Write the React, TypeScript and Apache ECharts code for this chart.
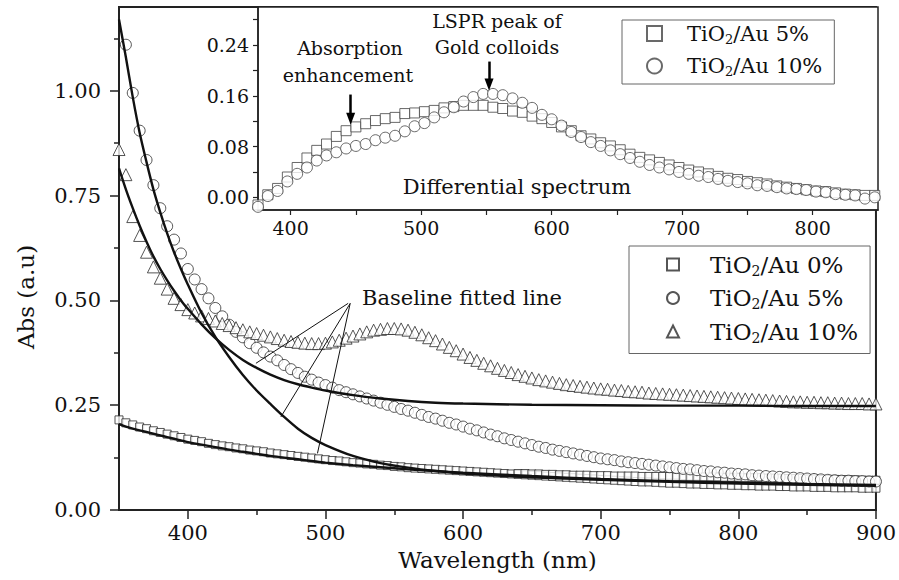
import React, { useEffect, useRef } from "react";
import * as echarts from "echarts";

const FONT = '"DejaVu Serif", serif';

// ---- main chart data (wavelength grid, nm) ----
const wavelengths = [
  350, 355, 360, 365, 370, 375, 380, 385, 390, 395,
  400, 405, 410, 415, 420, 425, 430, 435, 440, 445,
  450, 455, 460, 465, 470, 475, 480, 485, 490, 495,
  500, 505, 510, 515, 520, 525, 530, 535, 540, 545,
  550, 555, 560, 565, 570, 575, 580, 585, 590, 595,
  600, 605, 610, 615, 620, 625, 630, 635, 640, 645,
  650, 655, 660, 665, 670, 675, 680, 685, 690, 695,
  700, 705, 710, 715, 720, 725, 730, 735, 740, 745,
  750, 755, 760, 765, 770, 775, 780, 785, 790, 795,
  800, 805, 810, 815, 820, 825, 830, 835, 840, 845,
  850, 855, 860, 865, 870, 875, 880, 885, 890, 895,
  900,
];

const abs0 = [
  0.215, 0.208, 0.203, 0.198, 0.194, 0.189, 0.185, 0.181, 0.177, 0.173,
  0.169, 0.166, 0.163, 0.159, 0.156, 0.153, 0.151, 0.148, 0.146, 0.143,
  0.141, 0.139, 0.136, 0.134, 0.132, 0.13, 0.128, 0.126, 0.124, 0.122,
  0.12, 0.118, 0.117, 0.115, 0.113, 0.112, 0.11, 0.109, 0.107, 0.106,
  0.104, 0.103, 0.101, 0.1, 0.099, 0.098, 0.097, 0.096, 0.095, 0.094,
  0.093, 0.092, 0.091, 0.09, 0.089, 0.088, 0.087, 0.086, 0.085, 0.084,
  0.083, 0.082, 0.081, 0.08, 0.079, 0.078, 0.077, 0.076, 0.075, 0.074,
  0.073, 0.072, 0.071, 0.07, 0.069, 0.068, 0.067, 0.067, 0.066, 0.065,
  0.064, 0.064, 0.063, 0.062, 0.062, 0.061, 0.061, 0.06, 0.06, 0.059,
  0.059, 0.058, 0.058, 0.057, 0.057, 0.057, 0.056, 0.056, 0.055, 0.055,
  0.055, 0.054, 0.054, 0.054, 0.053, 0.053, 0.053, 0.053, 0.052, 0.052,
  0.052,
];

// second (upper) row of 0% squares visible at long wavelengths: [nm, abs]
const abs0UpperRow = [
  [640, 0.087], [645, 0.087], [650, 0.086], [655, 0.086], [660, 0.085], [665, 0.085],
  [670, 0.084], [675, 0.084], [680, 0.083], [685, 0.083], [690, 0.083], [695, 0.082],
  [700, 0.082], [705, 0.082], [710, 0.081], [715, 0.081], [720, 0.081], [725, 0.081],
  [730, 0.08], [735, 0.08], [740, 0.08], [745, 0.08], [750, 0.08], [755, 0.079],
  [760, 0.079], [765, 0.079], [770, 0.079], [775, 0.079], [780, 0.079], [785, 0.079],
  [790, 0.078], [795, 0.078], [800, 0.078], [805, 0.077], [810, 0.077], [815, 0.077],
  [820, 0.076], [825, 0.076], [830, 0.076], [835, 0.075], [840, 0.075], [845, 0.075],
  [850, 0.074], [855, 0.074], [860, 0.073], [865, 0.073], [870, 0.073], [875, 0.072],
  [880, 0.072], [885, 0.072], [890, 0.071], [895, 0.071], [900, 0.071],
];

const abs5 = [
  null, 1.11, 0.995, 0.905, 0.835, 0.775, 0.72, 0.677, 0.645, 0.612,
  0.575, 0.55, 0.527, 0.505, 0.482, 0.462, 0.442, 0.425, 0.412, 0.398,
  0.387, 0.376, 0.366, 0.357, 0.346, 0.336, 0.327, 0.318, 0.311, 0.304,
  0.298, 0.292, 0.286, 0.281, 0.276, 0.271, 0.266, 0.261, 0.256, 0.251,
  0.246, 0.241, 0.237, 0.232, 0.227, 0.222, 0.218, 0.213, 0.208, 0.204,
  0.199, 0.194, 0.19, 0.185, 0.18, 0.176, 0.171, 0.167, 0.163, 0.159,
  0.155, 0.151, 0.148, 0.144, 0.141, 0.138, 0.135, 0.132, 0.129, 0.126,
  0.123, 0.121, 0.119, 0.116, 0.114, 0.112, 0.11, 0.108, 0.106, 0.104,
  0.102, 0.1, 0.098, 0.097, 0.095, 0.093, 0.092, 0.09, 0.089, 0.087,
  0.086, 0.085, 0.083, 0.082, 0.081, 0.08, 0.079, 0.078, 0.077, 0.076,
  0.075, 0.074, 0.073, 0.072, 0.071, 0.07, 0.07, 0.069, 0.069, 0.068,
  0.068,
];

const abs10 = [
  0.86, 0.8, 0.7, 0.655, 0.615, 0.58, 0.553, 0.527, 0.505, 0.49,
  0.478, 0.47, 0.463, 0.457, 0.451, 0.445, 0.44, 0.435, 0.43, 0.425,
  0.421, 0.417, 0.413, 0.409, 0.405, 0.402, 0.4, 0.398, 0.397, 0.397,
  0.398, 0.401, 0.405, 0.41, 0.415, 0.42, 0.425, 0.429, 0.431, 0.433,
  0.433, 0.432, 0.429, 0.424, 0.418, 0.411, 0.404, 0.396, 0.388, 0.38,
  0.372, 0.364, 0.357, 0.35, 0.344, 0.338, 0.333, 0.328, 0.323, 0.319,
  0.315, 0.311, 0.308, 0.305, 0.302, 0.299, 0.297, 0.295, 0.293, 0.291,
  0.289, 0.288, 0.286, 0.285, 0.283, 0.282, 0.281, 0.279, 0.278, 0.277,
  0.276, 0.275, 0.274, 0.273, 0.272, 0.271, 0.27, 0.269, 0.268, 0.267,
  0.266, 0.265, 0.264, 0.263, 0.262, 0.261, 0.26, 0.259, 0.258, 0.258,
  0.257, 0.257, 0.256, 0.256, 0.255, 0.255, 0.254, 0.254, 0.254, 0.253,
  0.253,
];

// baseline fitted lines
const fitWavelengths = [
  350, 355, 360, 365, 370, 375, 380, 385, 390, 395, 400,
  410, 420, 430, 440, 450, 460, 470, 480, 490, 500,
  520, 540, 560, 580, 600,
  650, 700, 750, 800, 850, 900,
];
const fit0 = [
  0.205, 0.199, 0.194, 0.19, 0.186, 0.182, 0.178, 0.174, 0.17, 0.166, 0.162,
  0.156, 0.15, 0.144, 0.139, 0.134, 0.129, 0.125, 0.121, 0.117, 0.113,
  0.107, 0.102, 0.097, 0.093, 0.089,
  0.081, 0.074, 0.069, 0.065, 0.062, 0.06,
];
const fit5 = [
  1.17, 1.08, 0.985, 0.9, 0.83, 0.765, 0.71, 0.66, 0.615, 0.575, 0.538,
  0.47, 0.413, 0.365, 0.322, 0.285, 0.253, 0.222, 0.194, 0.172, 0.155,
  0.129, 0.112, 0.101, 0.093, 0.087,
  0.078, 0.072, 0.067, 0.063, 0.06, 0.058,
];
const fit10 = [
  0.815, 0.765, 0.72, 0.678, 0.64, 0.605, 0.575, 0.548, 0.523, 0.5, 0.48,
  0.443, 0.41, 0.382, 0.358, 0.339, 0.323, 0.31, 0.3, 0.292, 0.285,
  0.274, 0.266, 0.26, 0.256, 0.254,
  0.251, 0.25, 0.249, 0.249, 0.248, 0.248,
];

// ---- inset: differential spectrum ----
const insetWavelengths = [
  375, 382.5, 390, 397.5, 405, 412.5, 420, 427.5,
  435, 442.5, 450, 457.5, 465, 472.5, 480, 487.5,
  495, 502.5, 510, 517.5, 525, 532.5, 540, 547.5,
  555, 562.5, 570, 577.5, 585, 592.5, 600, 607.5,
  615, 622.5, 630, 637.5, 645, 652.5, 660, 667.5,
  675, 682.5, 690, 697.5, 705, 712.5, 720, 727.5,
  735, 742.5, 750, 757.5, 765, 772.5, 780, 787.5,
  795, 802.5, 810, 817.5, 825, 832.5, 840, 847.5,
];
const diff5 = [
  -0.012, 0.004, 0.014, 0.032, 0.047, 0.062, 0.074, 0.084,
  0.096, 0.105, 0.111, 0.116, 0.121, 0.124, 0.126, 0.132,
  0.133, 0.135, 0.137, 0.141, 0.143, 0.145, 0.145, 0.145,
  0.142, 0.14, 0.136, 0.134, 0.128, 0.124, 0.118, 0.111,
  0.105, 0.097, 0.092, 0.086, 0.081, 0.075, 0.068, 0.063,
  0.059, 0.055, 0.051, 0.047, 0.043, 0.04, 0.037, 0.033,
  0.03, 0.028, 0.025, 0.023, 0.021, 0.018, 0.016, 0.014,
  0.012, 0.01, 0.009, 0.007, 0.005, 0.004, 0.003, 0.003,
];
const diff10 = [
  -0.015, 0.002, 0.01, 0.025, 0.037, 0.047, 0.058, 0.066,
  0.071, 0.077, 0.081, 0.084, 0.09, 0.094, 0.097, 0.104,
  0.112, 0.117, 0.126, 0.134, 0.142, 0.151, 0.158, 0.163,
  0.163, 0.161, 0.156, 0.149, 0.141, 0.13, 0.123, 0.113,
  0.103, 0.095, 0.087, 0.081, 0.074, 0.068, 0.062, 0.056,
  0.051, 0.047, 0.044, 0.04, 0.037, 0.034, 0.032, 0.029,
  0.026, 0.024, 0.022, 0.019, 0.018, 0.016, 0.014, 0.013,
  0.0115, 0.009, 0.008, 0.005, 0.004, 0.003, -0.002, 0,
];

// ---- ticks ----
const xMajorTicks = [400, 500, 600, 700, 800, 900];
const xMinorTicks = [450, 550, 650, 750, 850];
const yMajorTicks = [0, 0.25, 0.5, 0.75, 1.0];
const yMinorTicks = [0.125, 0.375, 0.625, 0.875, 1.125];
const insetXLabels = [400, 500, 600, 700, 800];
const insetXTicks = [400, 450, 500, 550, 600, 650, 700, 750, 800];
const insetYLabels = [0, 0.08, 0.16, 0.24];
const insetYTicks = [0, 0.04, 0.08, 0.12, 0.16, 0.2, 0.24, 0.28];

const mainNames = ["TiO2/Au 0%", "TiO2/Au 5%", "TiO2/Au 10%"];
const insetNames = ["TiO2/Au 5% (differential)", "TiO2/Au 10% (differential)"];

function pairs(xs: number[], ys: (number | null)[]) {
  const out: number[][] = [];
  xs.forEach((x, i) => {
    const y = ys[i];
    if (y !== null && y !== undefined) out.push([x, y]);
  });
  return out;
}

function legendLabel(name: string) {
  const m = name.match(/Au (\d+%)/);
  const pct = m ? m[1] : "";
  return `{g| }{a|TiO}{s|2}{a|/Au ${pct}}`;
}

export default function App() {
  const ref = useRef<HTMLDivElement>(null);

  useEffect(() => {
    if (!ref.current) return;
    const chart = echarts.init(ref.current, null, { renderer: "svg" });

    const markerMain = { color: "#fff", borderColor: "#2a2a2a", borderWidth: 1 };
    const markerInset = { color: "#fff", borderColor: "#444", borderWidth: 1 };
    const tickLine = { color: "#222", width: 1.5 };

    const option: any = {
      animation: false,
      backgroundColor: "#fff",
      textStyle: { fontFamily: FONT },
      grid: [
        { left: 119, top: 7, width: 759, height: 503, show: true, borderColor: "#222", borderWidth: 2, backgroundColor: "transparent" },
        { left: 258, top: 7, width: 620, height: 203, show: true, borderColor: "#222", borderWidth: 1.5, backgroundColor: "#fff" },
      ],
      xAxis: [
        {
          gridIndex: 0, type: "value", min: 350, max: 900, position: "bottom",
          axisLine: { show: true, onZero: false, lineStyle: { color: "#222", width: 2 } },
          axisTick: { show: true, length: 9, lineStyle: tickLine, customValues: xMajorTicks },
          axisLabel: { show: true, margin: 12, fontFamily: FONT, fontSize: 21, color: "#111", customValues: xMajorTicks },
          splitLine: { show: false },
          name: "Wavelength (nm)", nameLocation: "middle", nameGap: 38,
          nameTextStyle: { fontFamily: FONT, fontSize: 23, color: "#111" },
        },
        {
          gridIndex: 0, type: "value", min: 350, max: 900, position: "bottom",
          axisLine: { show: false, onZero: false },
          axisTick: { show: true, length: 5, lineStyle: tickLine, customValues: xMinorTicks },
          axisLabel: { show: false },
          splitLine: { show: false },
        },
        {
          gridIndex: 1, type: "value", min: 375, max: 850, position: "bottom",
          axisLine: { show: true, onZero: false, lineStyle: { color: "#222", width: 1.5 } },
          axisTick: { show: true, length: 5, lineStyle: { color: "#222", width: 1.2 }, customValues: insetXTicks },
          axisLabel: { show: true, margin: 8, fontFamily: FONT, fontSize: 19, color: "#111", customValues: insetXLabels },
          splitLine: { show: false },
        },
      ],
      yAxis: [
        {
          gridIndex: 0, type: "value", min: 0, max: 1.2, position: "left",
          axisLine: { show: true, onZero: false, lineStyle: { color: "#222", width: 2 } },
          axisTick: { show: true, length: 9, lineStyle: tickLine, customValues: yMajorTicks },
          axisLabel: {
            show: true, margin: 18, fontFamily: FONT, fontSize: 21, color: "#111",
            customValues: yMajorTicks, formatter: (v: number) => v.toFixed(2),
          },
          splitLine: { show: false },
          name: "Abs (a.u)", nameLocation: "middle", nameGap: 82,
          nameTextStyle: { fontFamily: FONT, fontSize: 23, color: "#111", padding: [0, 77, 0, 0] },
        },
        {
          gridIndex: 0, type: "value", min: 0, max: 1.2, position: "left",
          axisLine: { show: false, onZero: false },
          axisTick: { show: true, length: 5, lineStyle: tickLine, customValues: yMinorTicks },
          axisLabel: { show: false },
          splitLine: { show: false },
        },
        {
          gridIndex: 1, type: "value", min: -0.02, max: 0.3, position: "left",
          axisLine: { show: true, onZero: false, lineStyle: { color: "#222", width: 1.5 } },
          axisTick: { show: true, length: 5, lineStyle: { color: "#222", width: 1.2 }, customValues: insetYTicks },
          axisLabel: {
            show: true, margin: 9, fontFamily: FONT, fontSize: 19, color: "#111",
            customValues: insetYLabels, formatter: (v: number) => v.toFixed(2),
          },
          splitLine: { show: false },
        },
      ],
      legend: [
        {
          orient: "vertical", left: 629, top: 246,
          padding: [7, 12, 9, 37], itemWidth: 12, itemHeight: 12, itemGap: 9,
          borderColor: "#666", borderWidth: 1, backgroundColor: "#fff",
          data: mainNames, formatter: legendLabel,
          textStyle: {
            fontFamily: FONT, fontSize: 23, color: "#111",
            rich: {
              g: { width: 26 },
              a: { fontFamily: FONT, fontSize: 23, lineHeight: 26, color: "#111" },
              s: { fontFamily: FONT, fontSize: 14, lineHeight: 6, verticalAlign: "bottom", color: "#111" },
            },
          },
        },
        {
          orient: "vertical", left: 622, top: 20,
          padding: [3, 12, 6, 24], itemWidth: 15, itemHeight: 15, itemGap: 10,
          borderColor: "#666", borderWidth: 1, backgroundColor: "#fff",
          data: insetNames, formatter: legendLabel,
          textStyle: {
            fontFamily: FONT, fontSize: 21, color: "#111",
            rich: {
              g: { width: 20 },
              a: { fontFamily: FONT, fontSize: 21, lineHeight: 24, color: "#111" },
              s: { fontFamily: FONT, fontSize: 13, lineHeight: 6, verticalAlign: "bottom", color: "#111" },
            },
          },
        },
      ],
      series: [
        {
          name: mainNames[0], type: "scatter", xAxisIndex: 0, yAxisIndex: 0,
          symbol: "rect", symbolSize: 8, itemStyle: markerMain,
          data: pairs(wavelengths, abs0).concat(abs0UpperRow),
        },
        {
          name: mainNames[1], type: "scatter", xAxisIndex: 0, yAxisIndex: 0,
          symbol: "circle", symbolSize: 11, itemStyle: markerMain,
          data: pairs(wavelengths, abs5),
        },
        {
          name: mainNames[2], type: "scatter", xAxisIndex: 0, yAxisIndex: 0,
          symbol: "triangle", symbolSize: 12, itemStyle: markerMain,
          data: pairs(wavelengths, abs10),
        },
        {
          name: "fit0", type: "line", xAxisIndex: 0, yAxisIndex: 0, smooth: 0.3,
          showSymbol: false, symbol: "none", lineStyle: { color: "#111", width: 2.4 },
          data: pairs(fitWavelengths, fit0), z: 3,
        },
        {
          name: "fit5", type: "line", xAxisIndex: 0, yAxisIndex: 0, smooth: 0.3,
          showSymbol: false, symbol: "none", lineStyle: { color: "#111", width: 2.4 },
          data: pairs(fitWavelengths, fit5), z: 3,
        },
        {
          name: "fit10", type: "line", xAxisIndex: 0, yAxisIndex: 0, smooth: 0.3,
          showSymbol: false, symbol: "none", lineStyle: { color: "#111", width: 2.4 },
          data: pairs(fitWavelengths, fit10), z: 3,
          markLine: {
            silent: true, symbol: ["none", "none"], animation: false,
            lineStyle: { color: "#111", width: 1, type: "solid" },
            label: { show: false },
            data: [
              [{ coord: [516.5, 0.493] }, { coord: [449.5, 0.35] }],
              [{ coord: [518, 0.493] }, { coord: [467.6, 0.222] }],
              [{ coord: [518, 0.493] }, { coord: [494.2, 0.135] }],
            ],
          },
        },
        {
          name: insetNames[0], type: "scatter", xAxisIndex: 2, yAxisIndex: 2,
          symbol: "rect", symbolSize: 10, itemStyle: markerInset,
          data: pairs(insetWavelengths, diff5),
        },
        {
          name: insetNames[1], type: "scatter", xAxisIndex: 2, yAxisIndex: 2,
          symbol: "circle", symbolSize: 11, itemStyle: markerInset,
          data: pairs(insetWavelengths, diff10),
          markLine: {
            silent: true, symbol: ["none", "triangle"], symbolSize: [9, 12], animation: false,
            lineStyle: { color: "#000", width: 2.5, type: "solid" },
            itemStyle: { color: "#000" },
            label: { show: false },
            data: [
              [{ coord: [446, 0.162] }, { coord: [446, 0.124] }],
              [{ coord: [552, 0.214] }, { coord: [552, 0.178] }],
            ],
          },
        },
      ],
      graphic: [
        { type: "text", z: 100, x: 362, y: 298, style: { text: "Baseline fitted line", font: `21px ${FONT}`, fill: "#111", align: "left", verticalAlign: "middle" } },
        { type: "text", z: 100, x: 497, y: 21, style: { text: "LSPR peak of", font: `19px ${FONT}`, fill: "#111", align: "center", verticalAlign: "middle" } },
        { type: "text", z: 100, x: 497, y: 47, style: { text: "Gold colloids", font: `19px ${FONT}`, fill: "#111", align: "center", verticalAlign: "middle" } },
        { type: "text", z: 100, x: 350, y: 48, style: { text: "Absorption", font: `19px ${FONT}`, fill: "#111", align: "center", verticalAlign: "middle" } },
        { type: "text", z: 100, x: 348, y: 75, style: { text: "enhancement", font: `19px ${FONT}`, fill: "#111", align: "center", verticalAlign: "middle" } },
        { type: "text", z: 100, x: 517, y: 187, style: { text: "Differential spectrum", font: `21px ${FONT}`, fill: "#111", align: "center", verticalAlign: "middle" } },
      ],
    };

    chart.setOption(option);
    return () => chart.dispose();
  }, []);

  return (
    <div
      ref={ref}
      style={{ position: "absolute", left: 0, top: 0, width: 899, height: 580, background: "#fff" }}
    />
  );
}
